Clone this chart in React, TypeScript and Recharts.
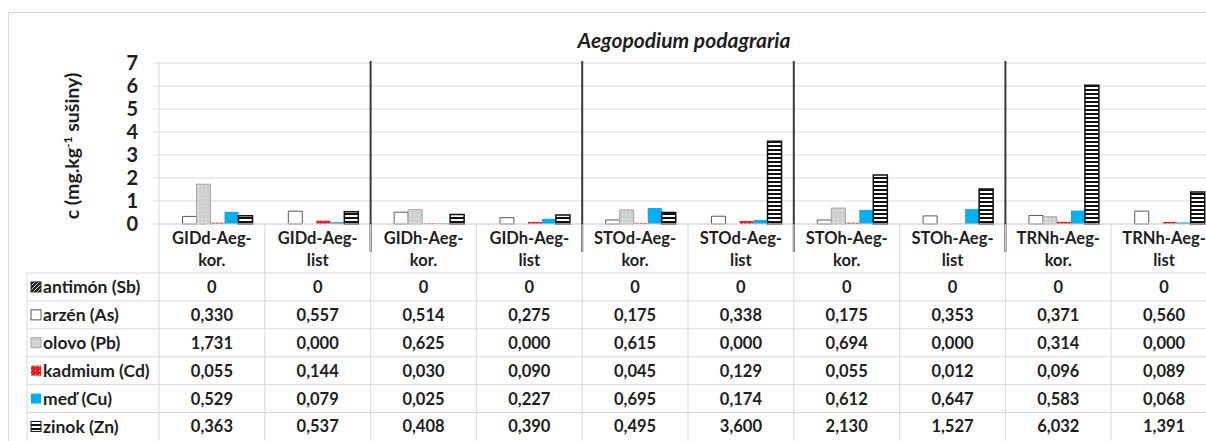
import React, { useEffect } from 'react';
import { BarChart, Bar, XAxis, YAxis, CartesianGrid } from 'recharts';

const CATEGORIES = [
  'GIDd-Aeg-kor.', 'GIDd-Aeg-list', 'GIDh-Aeg-kor.', 'GIDh-Aeg-list', 'STOd-Aeg-kor.',
  'STOd-Aeg-list', 'STOh-Aeg-kor.', 'STOh-Aeg-list', 'TRNh-Aeg-kor.', 'TRNh-Aeg-list',
];
const ANTIMON = [0, 0, 0, 0, 0, 0, 0, 0, 0, 0];
const ARZEN = [0.330, 0.557, 0.514, 0.275, 0.175, 0.338, 0.175, 0.353, 0.371, 0.560];
const OLOVO = [1.731, 0.000, 0.625, 0.000, 0.615, 0.000, 0.694, 0.000, 0.314, 0.000];
const KADMIUM = [0.055, 0.144, 0.030, 0.090, 0.045, 0.129, 0.055, 0.012, 0.096, 0.089];
const MED = [0.529, 0.079, 0.025, 0.227, 0.695, 0.174, 0.612, 0.647, 0.583, 0.068];
const ZINOK = [0.363, 0.537, 0.408, 0.390, 0.495, 3.600, 2.130, 1.527, 6.032, 1.391];
const Y_TICKS = [0, 1, 2, 3, 4, 5, 6, 7];

const SERIES = [
  { key: 'sb', name: 'antimón (Sb)', values: ANTIMON, digits: 0, fill: 'url(#pSb)', stroke: '#262626' },
  { key: 'as', name: 'arzén (As)', values: ARZEN, digits: 3, fill: '#ffffff', stroke: '#595959' },
  { key: 'pb', name: 'olovo (Pb)', values: OLOVO, digits: 3, fill: 'url(#pPb)', stroke: '#a6a6a6' },
  { key: 'cd', name: 'kadmium (Cd)', values: KADMIUM, digits: 3, fill: 'url(#pCd)', stroke: 'none' },
  { key: 'cu', name: 'meď (Cu)', values: MED, digits: 3, fill: '#00b0f0', stroke: 'none' },
  { key: 'zn', name: 'zinok (Zn)', values: ZINOK, digits: 3, fill: 'url(#pZn)', stroke: '#111111' },
];

const data = CATEGORIES.map((cat, i) => {
  const row: Record<string, string | number> = { cat };
  SERIES.forEach((s) => { row[s.key] = s.values[i]; });
  return row;
});

// geometry (svg coords)
const W = 1240;
const H = 450;
const PLOT_LEFT = 150;
const PLOT_TOP = 50;
const PLOT_H = 161;
const COL_W = 105.8;
const RIGHT = W - PLOT_LEFT - COL_W * CATEGORIES.length;
const HEAD_H = 49;
const ROW_H = 27.9;
const LABEL_LEFT = 18;
const TEXT = '#1e1e1e';
const GRID = '#d9d9d9';

const fmt = (v: number, d: number) => (d === 0 ? String(Math.round(v)) : v.toFixed(d).replace('.', ','));

const Icon = ({ x, y, s }: { x: number; y: number; s: (typeof SERIES)[number] }) => (
  <rect x={x} y={y} width={10} height={10} fill={s.fill} stroke={s.stroke === 'none' ? 'none' : s.stroke} strokeWidth={1} />
);

const TableTick = (props: any) => {
  const { x, y, payload } = props;
  const i = CATEGORIES.indexOf(payload.value);
  const name: string = payload.value;
  const cut = name.lastIndexOf('-') + 1;
  const left = x - COL_W / 2;
  const right = x + COL_W / 2;
  const bottom = HEAD_H + ROW_H * SERIES.length;
  const fs = { fontFamily: 'Lato', fontWeight: 700, fontSize: 16.5, fill: TEXT };
  return (
    <g transform={`translate(0,${y})`}>
      {i % 2 === 0 && i > 0 && (
        <line x1={left} x2={left} y1={-163} y2={28} stroke="#3a3a3a" strokeWidth={2} />
      )}
      <line x1={left} x2={left} y1={0} y2={bottom} stroke={GRID} />
      {i === CATEGORIES.length - 1 && <line x1={right} x2={right} y1={0} y2={bottom} stroke={GRID} />}
      <text x={x} y={14} textAnchor="middle" dominantBaseline="central" {...fs}>{name.slice(0, cut)}</text>
      <text x={x} y={36} textAnchor="middle" dominantBaseline="central" {...fs}>{name.slice(cut)}</text>
      {SERIES.map((s, k) => (
        <g key={s.key}>
          <line x1={left} x2={right} y1={HEAD_H + ROW_H * k} y2={HEAD_H + ROW_H * k} stroke={GRID} />
          <text x={x} y={HEAD_H + ROW_H * (k + 0.5)} textAnchor="middle" dominantBaseline="central" {...fs}>
            {fmt(s.values[i], s.digits)}
          </text>
        </g>
      ))}
      {i === 0 && (
        <g>
          <line x1={LABEL_LEFT} x2={LABEL_LEFT} y1={HEAD_H} y2={bottom} stroke={GRID} />
          {SERIES.map((s, k) => (
            <g key={s.key}>
              <line x1={LABEL_LEFT} x2={left} y1={HEAD_H + ROW_H * k} y2={HEAD_H + ROW_H * k} stroke={GRID} />
              <Icon x={LABEL_LEFT + 4} y={HEAD_H + ROW_H * (k + 0.5) - 5} s={s} />
              <text x={LABEL_LEFT + 16} y={HEAD_H + ROW_H * (k + 0.5)} dominantBaseline="central" {...fs} fontSize={17.5}>
                {s.name}
              </text>
            </g>
          ))}
        </g>
      )}
    </g>
  );
};

export default function App() {
  useEffect(() => {
    const h = document.documentElement;
    h.style.overflow = 'hidden';
    h.style.setProperty('scrollbar-width', 'none');
    document.body.style.overflow = 'hidden';
  }, []);
  return (
    <div style={{ position: 'fixed', left: 0, top: 0, right: 0, bottom: 0, overflow: 'hidden', background: '#fff' }}>
      <div style={{ position: 'absolute', left: 8, top: 12, width: 1260, height: 470, borderLeft: `1px solid ${GRID}`, borderTop: `1px solid ${GRID}`, background: '#fff', fontFamily: 'Lato' }}>
        <div style={{ position: 'absolute', left: 525, top: 14, width: 300, textAlign: 'center', fontWeight: 700, fontStyle: 'italic', fontSize: 21, color: TEXT, whiteSpace: 'nowrap' }}>
          Aegopodium podagraria
        </div>
        <div style={{ position: 'absolute', left: 63 - 110, top: 133 - 12, width: 220, height: 24, textAlign: 'center', transform: 'rotate(-90deg)', fontWeight: 700, fontSize: 19.5, color: TEXT, whiteSpace: 'nowrap', lineHeight: '24px' }}>
          c (mg.kg<sup style={{ fontSize: 12, lineHeight: 0 }}>-1</sup> sušiny)
        </div>
        <div style={{ position: 'absolute', left: 0, top: 0 }}>
          <BarChart width={W} height={H} data={data} margin={{ top: PLOT_TOP, right: RIGHT, bottom: 0, left: 0 }} barCategoryGap="9%" barGap={0}>
            <defs>
              <pattern id="pZn" width={4} height={4} patternUnits="userSpaceOnUse">
                <rect width={4} height={4} fill="#ffffff" />
                <rect width={4} height={2} fill="#111111" />
              </pattern>
              <pattern id="pPb" width={4} height={4} patternUnits="userSpaceOnUse">
                <rect width={4} height={4} fill="#d0d0d0" />
                <rect x={1} y={1} width={1} height={1} fill="#f4f4f4" />
              </pattern>
              <pattern id="pCd" width={4} height={4} patternUnits="userSpaceOnUse">
                <rect width={4} height={4} fill="#f21c24" />
                <rect x={2} y={2} width={1} height={1} fill="#ffb0b0" />
              </pattern>
              <pattern id="pSb" width={4} height={4} patternUnits="userSpaceOnUse">
                <rect width={4} height={4} fill="#262626" />
                <path d="M0,4 L4,0" stroke="#ffffff" strokeWidth={0.8} />
              </pattern>
            </defs>
            <CartesianGrid vertical={false} stroke={GRID} />
            <XAxis dataKey="cat" interval={0} tickSize={0} tickMargin={0} height={H - PLOT_TOP - PLOT_H} axisLine={{ stroke: GRID }} tickLine={false} tick={<TableTick />} />
            <YAxis width={PLOT_LEFT} domain={[0, 7]} ticks={Y_TICKS} interval={0} tickSize={6} tickMargin={15} axisLine={{ stroke: GRID }} tickLine={{ stroke: GRID }} tick={{ fill: TEXT, fontSize: 20, fontWeight: 700, fontFamily: 'Lato' }} />
            {SERIES.map((s) => (
              <Bar key={s.key} dataKey={s.key} name={s.name} fill={s.fill} stroke={s.stroke} strokeWidth={s.key === 'zn' ? 1.5 : 1} isAnimationActive={false} />
            ))}
          </BarChart>
        </div>
      </div>
    </div>
  );
}
